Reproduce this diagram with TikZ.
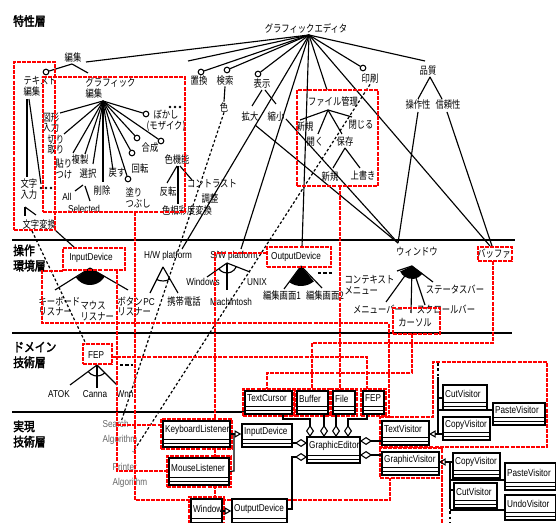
\documentclass[tikz,border=0pt]{standalone}
\usepackage{fontspec}
\setmainfont{Noto Sans CJK JP}[FakeStretch=0.8]
\newfontfamily\lat{Liberation Sans}[FakeStretch=0.82]
\newfontfamily\jpbold{Noto Sans CJK JP}[FakeStretch=0.85,FakeBold=2.5]
\usetikzlibrary{fit,calc,arrows.meta}
\tikzset{
 jp/.style={font=\fontsize{7.8}{8}\selectfont, align=center, inner sep=0.3pt},
 jpl/.style={jp, align=left},
 lt/.style={font=\lat\fontsize{7.5}{8.6}\selectfont, inner sep=0.3pt, align=left},
 gr/.style={font=\lat\fontsize{7.5}{11}\selectfont, inner sep=0.3pt, align=left, text=black!60},
 lay/.style={font=\jpbold\fontsize{9.5}{11.5}\selectfont, align=left, inner sep=0},
 ln/.style={line width=0.85pt},
 sep/.style={line width=1.1pt},
 rdl/.style={draw=red, line width=1.5pt, dash pattern=on 3pt off 0.8pt},
 dtl/.style={line width=0.9pt, dash pattern=on 2pt off 1.6pt},
 opt/.style={circle, draw, fill=white, line width=0.8pt, minimum size=4.2pt, inner sep=0},
 umlb/.style={draw, line width=1.1pt, inner sep=0},
 inh/.style={-{Triangle[open,length=5pt,width=5.5pt]}, line width=0.8pt},
 agg/.style={-{Diamond[open,length=9pt,width=6pt]}, line width=0.8pt},
 aggs/.style={{Diamond[open,length=9pt,width=6pt]}-, line width=0.8pt},
}
\newcommand\ucls[6]{%
  \node[umlb, fill=white, fit={(#2,#3) (#4,#5)}] (#1) {};
  \draw[line width=0.7pt] (#2,{#5-8}) -- (#4,{#5-8});
  \draw[line width=0.7pt] (#2,{#5-4}) -- (#4,{#5-4});
  \node[lt, anchor=west] (#1-t) at ({#2+1.5},{(#3+#5-8)/2}) {#6};
}
\newcommand\rbox[5]{%
  \node[rdl, inner sep=0, fit={(#2,#3) (#4,#5)}] (#1) {};
}
\begin{document}
\begin{tikzpicture}[x=0.75pt,y=-0.75pt]
\useasboundingbox (0,0) rectangle (556,523);

% ---------- layer separators and titles
\draw[sep] (12,240) -- (515,240);
\draw[sep] (12,333) -- (512,333);
\draw[sep] (12,412) -- (245,412);
\node[lay, anchor=west] (L1) at (13,21) {特性層};
\node[lay, anchor=west] (L2) at (13,258) {操作\\環境層};
\node[lay, anchor=west] (L3) at (13,355) {ドメイン\\技術層};
\node[lay, anchor=west] (L4) at (13,434) {実現\\技術層};

% ---------- feature layer
\node[jp] (root) at (306,28) {グラフィックエディタ};
\coordinate (rp) at (309,35);
\node[jp] (hen) at (73,58) {編集};
\coordinate (c188) at (188,61);
\node[opt] (o1) at (201,72) {};
\node[jp] (chikan) at (199,81) {置換};
\node[opt] (o2) at (227,70) {};
\node[jp] (kensaku) at (225,81) {検索};
\node[jp] (iro) at (224,107) {色};
\node[opt] (o3) at (258,74) {};
\node[jp] (hyoji) at (262,84) {表示};
\node[jp] (kakudai) at (250,117) {拡大};
\node[jp] (shuku) at (276,117) {縮小};
\node[opt] (o4) at (363,68) {};
\node[jp] (insatsu) at (370,79) {印刷};
\node[jp] (hinsh) at (428,71) {品質};
\node[jp] (sosa) at (418,105) {操作性};
\node[jp] (shinrai) at (448,105) {信頼性};

\foreach \t in {(86,62),(c188),(o1),(o2),(o3),(327,90),(o4),(425,61),(490,246),(182,249),(241,249),(302,247)}
  \draw[ln] (rp) -- \t;

\draw[ln] (kensaku.south) -- (iro.north);
\draw[ln] (262,90) -- (252,106);
\draw[ln] (265,90) -- (276,104);
\draw[ln] (430,77) -- (418,99);
\draw[ln] (430,77) -- (442,99);

% text editing group
\node[opt] (o0) at (46,72) {};
\draw[ln] (72,64) -- (o0);
\draw[ln] (72,64) -- (88,73);
\node[jpl, anchor=north west] (te) at (23,76) {テキスト\\編集};
\node[jpl, anchor=north west] (mji) at (20,178) {文字\\入力};
\foreach \i in {41,46,51} \fill (\i,188) circle (1.4);
\coordinate (dots2) at (41,184);
\draw[ln] (27,99) -- (27,177);
\draw[ln] (29,99) -- (dots2);
\draw[ln] (25,207) -- (25,216);
\draw[ln] (25,207) -- (36,215);
\node[jp, anchor=west] (mjh) at (22,225) {文字変換};

% graphic editing group
\node[jpl, anchor=north west] (gh) at (85,77) {グラフィック\\編集};
\coordinate (fp) at (103,101);
\node[jpl, anchor=north west] (zk) at (42,112) {図形\\入力};
\node[jpl, anchor=north west] (kr) at (47,134) {切り\\取り};
\node[jpl, anchor=north west] (hr) at (55,158) {貼り\\つけ};
\node[jp] (fks) at (80,160) {複製};
\node[jp] (sn) at (88,174) {選択};
\node[lt] (al) at (67,197) {All};
\node[lt] (sel) at (84,209) {Selected};
\node[jp] (skj) at (102,191) {削除};
\node[jp] (mds) at (117,173) {戻す};
\node[jp] (ktn) at (140,169) {回転};
\node[jpl, anchor=north west] (nr) at (125,187) {塗り\\つぶし};
\node[jp] (gsi) at (150,148) {合成};
\node[jp] (ikn) at (177,160) {色機能};
\node[jp] (bk) at (166,121) {ぼかし\\(モザイク)};
\foreach \i in {170,175,180} \fill (\i,107) circle (1.4);
\node[opt] (o5) at (146,114) {};
\node[opt] (o6) at (137,138) {};
\node[opt] (o7) at (132,153) {};
\node[opt] (o8) at (161,141) {};
\node[opt] (o9) at (128,179) {};
\foreach \p in {(60,113),(64,134),(73,153),(85,154),(93,164),(103,182),(113,170),(o9),(o7),(o6),(o8),(o5)}
  \draw[ln] (fp) -- \p;
\draw[ln] (83,185) -- (75,191);
\draw[ln] (85,186) -- (90,201);
\node[jp] (hnt) at (168,192) {反転};
\node[jp] (ctr) at (212,184) {コントラスト};
\node[jp] (chs) at (210,199) {調整};
\node[jp] (shk) at (187,211) {色相彩度変換};
\draw[ln] (177,166) -- (167,183);
\draw[ln] (178,166) -- (178,204);
\draw[ln] (180,166) -- (192,180);

% file management group
\node[jp] (fkr) at (333,102) {ファイル管理};
\node[jp] (sk1) at (305,127) {新規};
\node[jp] (hrk) at (315,142) {開く};
\node[jp] (hoz) at (345,142) {保存};
\node[jp] (toj) at (361,125) {閉じる};
\node[jp] (sk2) at (330,177) {新規};
\node[jp] (uwg) at (363,176) {上書き};
\draw[ln] (328,110) -- (300,120);
\draw[ln] (328,110) -- (318,134);
\draw[ln] (328,110) -- (342,134);
\draw[ln] (328,110) -- (352,117);
\draw[ln] (345,148) -- (333,168);
\draw[ln] (345,148) -- (360,168);

% ---------- environment layer
\node[lt] (idv) at (91,258) {InputDevice};
\fill (90,268) -- ++(29:17) arc (29:146:17) -- cycle;
\draw[ln] (90,268) -- (55,290);
\draw[ln] (90,268) -- (128,290);
\node[jpl, anchor=north west] (kb) at (38,296) {キーボード\\リスナー};
\node[jpl, anchor=north west] (ms) at (80,301) {マウス\\リスナー};
\node[jpl, anchor=north west] (bt) at (117,296) {ボタン\\リスナー};

\node[lt] (hw) at (168,256) {H/W platform};
\coordinate (hwa) at (163,267);
\draw[ln] (hwa) -- (150,293);
\draw[ln] (hwa) -- (178,293);
\draw[ln] ([shift={(61:14)}]hwa) arc (61:118:14);
\node[lt] (pc) at (149,302) {PC};
\node[jp] (kei) at (184,302) {携帯電話};

\node[lt] (sw) at (234,256) {S/W platform};
\coordinate (swa) at (227,263);
\draw[ln] (swa) -- (207,277);
\draw[ln] (swa) -- (227,290);
\draw[ln] (swa) -- (250,272);
\draw[ln] ([shift={(21:10)}]swa) arc (21:145:10);
\node[lt] (win) at (203,282) {Windows};
\node[lt] (unx) at (257,282) {UNIX};
\node[lt] (mac) at (231,302) {Machintosh};

\node[lt] (odv) at (296,257) {OutputDevice};
\fill (301,266) -- ++(50:20) arc (50:125:20) -- cycle;
\draw[ln] (301,266) -- (284,289);
\draw[ln] (301,266) -- (322,288);
\draw[line width=1pt, dash pattern=on 2.5pt off 1.5pt] (318,273) -- (333,273);
\node[jp] (hg1) at (282,296) {編集画面1};
\node[jp] (hg2) at (325,296) {編集画面2};

\node[jp] (wnd) at (417,252) {ウィンドウ};
\coordinate (wp) at (398,243);
\coordinate (wa) at (412,266);
\fill (wa) -- ++(35:13) arc (35:155:13) -- cycle;
\draw[ln] (wa) -- (397,271);
\draw[ln] (wa) -- (386,302);
\draw[ln] (wa) -- (411,313);
\draw[ln] (wa) -- (425,305);
\draw[ln] (wa) -- (433,282);
\node[jpl, anchor=north west] (ctx) at (344,275) {コンテキスト\\メニュー};
\node[jp] (mbar) at (378,309) {メニューバー};
\node[jp] (sbar) at (446,309) {スクロールバー};
\node[jp] (stbar) at (455,289) {ステータスバー};
\node[jp] (crs) at (415,323) {カーソル};
\node[jp] (buf) at (494,254) {バッファ};

% long feature-to-environment lines
\draw[ln] (255,125) -- (wp);
\draw[ln] (286,119) -- (wp);
\draw[ln] (418,112) -- (wp);
\draw[ln] (447,112) -- (492,246);
\draw[ln] (55,230) -- (75,248);

% ---------- domain layer
\node[lt] (fepd) at (96,355) {FEP};
\coordinate (fa) at (97,365);
\draw[ln] (fa) -- (70,385);
\draw[ln] (fa) -- (97,388);
\draw[ln] (fa) -- (117,385);
\draw[ln] ([shift={(45:11)}]fa) arc (45:143:11);
\draw[line width=1pt, dash pattern=on 2.5pt off 1.5pt] (120,365) -- (133,365);
\node[lt] (atok) at (59,394) {ATOK};
\node[lt] (canna) at (95,394) {Canna};
\node[lt] (wnn) at (125,394) {Wnn};

% ---------- implementation layer texts
\node[gr, anchor=north west] (srch) at (102,420) {Search\\Algorithm};
\node[gr, anchor=north west] (prn) at (112,463) {Printer\\Algorithm};

% dotted traces
\draw[dtl] (iro.south) -- (121,422);
\draw[dtl] (insatsu.south) -- (133,452);
\draw[dtl] (32,231) -- (86,344);

% ---------- red traces
\rbox{rA}{14}{62}{55}{230}
\rbox{rB}{43}{77}{185}{212}
\rbox{rC}{297}{90}{378}{186}
\rbox{rID}{63}{248}{125}{270}
\rbox{rOD}{267}{247}{331}{267}
\rbox{rWN}{393}{308}{440}{334}
\rbox{rBF}{478}{247}{512}{261}
\rbox{rFP}{83}{344}{112}{364}
\draw[rdl] (63,271) -- (42,271) -- (42,323) -- (389,323) -- (389,418);
\draw[rdl] (135,212) -- (135,500) -- (390,500) -- (390,478);
\draw[rdl] (340,186) -- (340,390);
\draw[rdl] (117,270) -- (117,471) -- (167,471);
\draw[rdl] (117,425) -- (161,425);
\draw[rdl] (493,261) -- (493,343) -- (312,343) -- (312,389);
\draw[rdl] (412,334) -- (412,373) -- (267,373) -- (267,389);
\draw[rdl] (112,357) -- (367,357) -- (367,389);
\draw[rdl] (267,253) -- (215,253) -- (215,497);
\draw[rdl] (380,417) -- (433,417) -- (433,362) -- (547,362) -- (547,447) -- (380,447) -- cycle;
\draw[rdl] (380,448) rectangle (442,478);
\draw[rdl] (442,478) -- (442,523);

% ---------- UML classes
\ucls{tc}{245}{391}{292}{414}{TextCursor}
\ucls{bu}{297}{391}{328}{414}{Buffer}
\ucls{fi}{333}{391}{355}{414}{File}
\ucls{fe}{363}{391}{384}{414}{FEP}
\ucls{kl}{163}{421}{230}{447}{KeyboardListener}
\ucls{ml}{169}{458}{229}{485}{MouseListener}
\ucls{wi}{191}{499}{222}{526}{Window}
\ucls{idi}{242}{424}{292}{447}{InputDevice}
\ucls{odi}{232}{499}{287}{526}{OutputDevice}
\ucls{ge}{307}{437}{360}{463}{GraphicEditor}
\ucls{tv}{382}{421}{429}{445}{TextVisitor}
\ucls{gv}{382}{452}{439}{475}{GraphicVisitor}
\ucls{cut1}{443}{385}{487}{410}{CutVisitor}
\ucls{pas1}{493}{403}{545}{425}{PasteVisitor}
\ucls{cop1}{443}{417}{490}{440}{CopyVisitor}
\ucls{cop2}{453}{453}{500}{478}{CopyVisitor}
\ucls{pas2}{505}{463}{556}{490}{PasteVisitor}
\ucls{cut2}{454}{483}{497}{508}{CutVisitor}
\ucls{und}{505}{495}{556}{520}{UndoVisitor}

% red frames around classes
\rbox{rtc}{243}{389}{294}{416}
\rbox{rbu}{295}{389}{330}{416}
\rbox{rfi}{331}{389}{357}{416}
\rbox{rfe}{361}{389}{386}{416}
\rbox{rkl}{161}{419}{232}{449}
\rbox{rml}{167}{456}{231}{487}
\rbox{rwi}{189}{497}{224}{526}

% UML relations
\draw[inh] (kl.east) -- (idi.west |- kl.east);
\draw[ln] (ml.east) -- (234,471) -- (234,434);
\draw[inh] (wi.east |- 0,511) -- (odi.west |- 0,511);
\draw[agg] (283,414) -- (283,419) -- (310,419) -- (310,437);
\draw[agg] (324,414) -- (324,437);
\draw[agg] (336,414) -- (336,437);
\draw[agg] (367,414) -- (367,419) -- (348,419) -- (348,437);
\draw[agg] (292,443) -- (307,443);
\draw[agg] (287,509) -- (292,509) -- (292,457) -- (307,457);
\draw[aggs] (360,441) -- (382,441);
\draw[aggs] (360,455) -- (382,455);
\draw[inh] (443,434) -- (429,434);
\draw[ln, dash pattern=on 2pt off 2pt] (438,363) -- (438,377);
\draw[ln] (438,377) -- (438,434);
\draw[ln] (438,398) -- (443,398);
\draw[ln] (438,410) -- (493,410);
\draw[inh] (453,462) -- (439,462);
\draw[ln] (450,462) -- (450,506);
\draw[ln, dash pattern=on 2pt off 2pt] (450,506) -- (450,523);
\draw[ln] (450,480) -- (505,480);
\draw[ln] (450,490) -- (454,490);
\draw[ln] (450,510) -- (505,510);
\end{tikzpicture}
\end{document}
